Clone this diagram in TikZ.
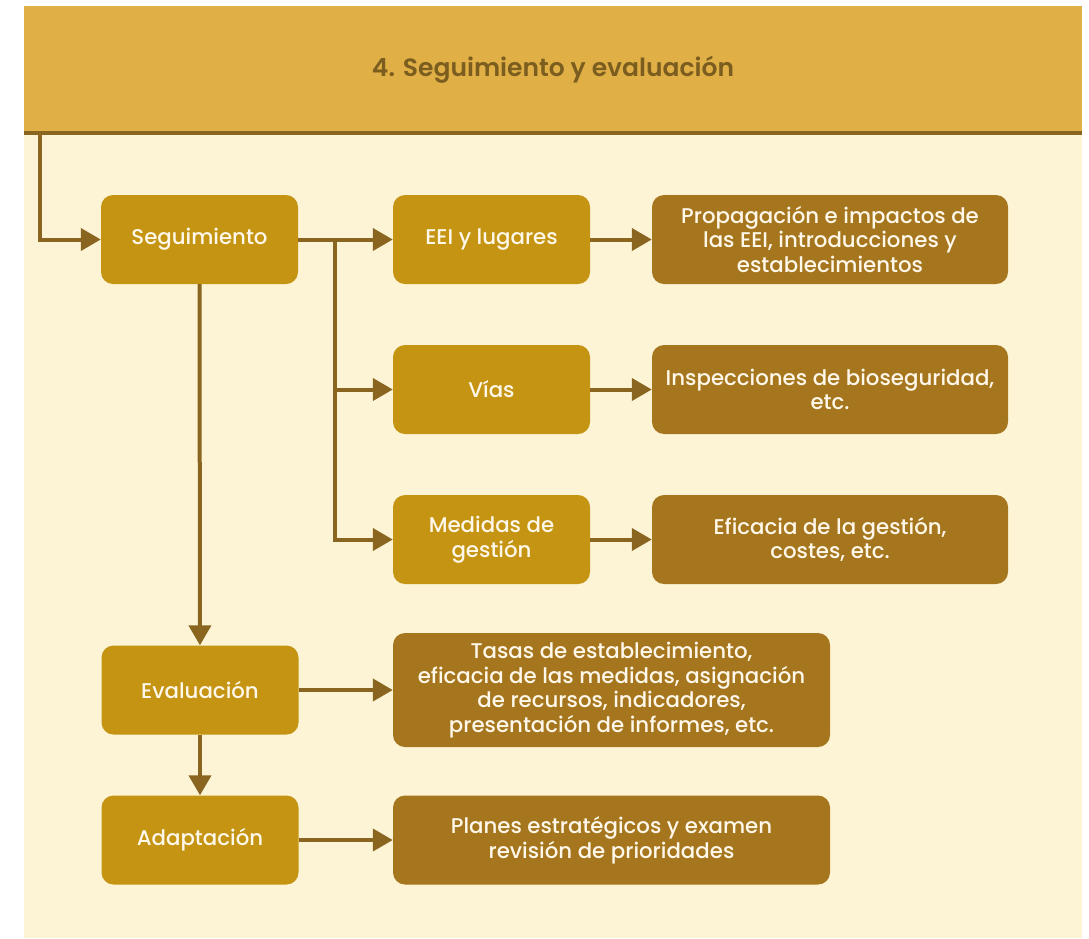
\documentclass[tikz,border=0pt]{standalone}
\usepackage{fontspec}
\setmainfont{Poppins}
\newfontfamily\medfont{Poppins Medium}
\newfontfamily\semifont{Poppins SemiBold}
\usetikzlibrary{arrows.meta}
\definecolor{crema}{HTML}{FDF4D6}
\definecolor{cabecera}{HTML}{E0B046}
\definecolor{oro}{HTML}{C49412}
\definecolor{ocre}{HTML}{A5761D}
\definecolor{linea}{HTML}{8A6520}
\definecolor{titulo}{HTML}{7B5E1F}
\definecolor{letra}{HTML}{FFF8EA}
\begin{document}
\begin{tikzpicture}[x=1pt,y=-1pt,
    caja/.style={rectangle, rounded corners=12pt, fill=oro, text=letra, align=center,
        inner sep=0pt, minimum width=197pt, minimum height=89pt, font=\medfont\fontsize{21.3}{24.6}\selectfont},
    resultado/.style={caja, fill=ocre, minimum width=356pt},
    ancha/.style={resultado, minimum width=437pt},
    flecha/.style={draw=linea, line width=4pt, -{Triangle[length=20pt,width=22pt]}}]
    \useasboundingbox (0,0) rectangle (1089,938);
    \fill[crema] (24,6) rectangle (1082,938);
    % cabecera
    \node[rectangle, fill=cabecera, minimum width=1058pt, minimum height=127pt, inner sep=0pt,
        text=titulo, font=\semifont\fontsize{25}{30}\selectfont] (cab) at (553,69.5) {4. Seguimiento y evaluación};
    \draw[linea, line width=4pt] (cab.south west) -- (cab.south east);
    \coordinate (ini) at (40,133);
    % columna izquierda
    \node[caja] (seg) at (199.5,239.5) {Seguimiento};
    \node[caja] (eval) at (200,690) {Evaluación};
    \node[caja] (adap) at (200,840) {Adaptación};
    % columna central
    \node[caja] (eei) at (491.5,239.5) {EEI y lugares};
    \node[caja] (vias) at (491.5,389.5) {Vías};
    \node[caja] (med) at (491.5,539.5) {Medidas de\\gestión};
    \coordinate (rama) at (335,239.5);
    % resultados
    \node[resultado] (prop) at (830,239.5) {Propagación e impactos de\\las EEI, introducciones y\\establecimientos};
    \node[resultado] (insp) at (830,389.5) {Inspecciones de bioseguridad,\\etc.};
    \node[resultado] (efic) at (830,539.5) {Eficacia de la gestión,\\costes, etc.};
    \node[ancha, minimum height=114pt] (tasas) at (611.5,690) {Tasas de establecimiento,\\eficacia de las medidas, asignación\\de recursos, indicadores,\\presentación de informes, etc.};
    \node[ancha] (plan) at (611.5,840) {Planes estratégicos y examen\\revisión de prioridades};
    % flechas
    \draw[flecha] (ini) |- (seg.west);
    \draw[flecha] (seg) -- (eei);
    \draw[flecha] (rama) |- (vias.west);
    \draw[flecha] (rama) |- (med.west);
    \draw[flecha] (eei) -- (prop);
    \draw[flecha] (vias) -- (insp);
    \draw[flecha] (med) -- (efic);
    \draw[flecha] (seg) -- (eval);
    \draw[flecha] (eval) -- (adap);
    \draw[flecha] (eval) -- (tasas);
    \draw[flecha] (adap) -- (plan);
\end{tikzpicture}
\end{document}
